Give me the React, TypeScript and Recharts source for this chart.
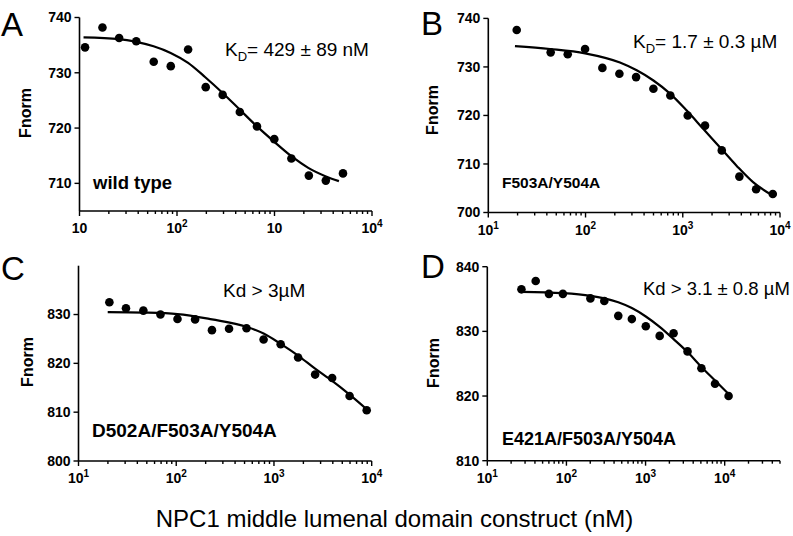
import type { FC } from 'react'
import { ComposedChart, Line, Scatter, XAxis, YAxis } from 'recharts'

const FONT = '"Liberation Sans", Arial, Helvetica, sans-serif'

// A - wild type
const wtConc = [11.4, 17.2, 25.5, 38.2, 57.7, 86.3, 130, 197, 294, 441, 661, 995, 1490, 2250, 3360, 5040]
const wtFnorm = [734.6, 738.2, 736.3, 735.7, 732.0, 731.2, 734.2, 727.4, 726.0, 722.9, 720.3, 718.0, 714.5, 711.4, 710.5, 711.8]
const wtFitConc = [11, 25.6, 38.2, 57.5, 86.1, 130, 195, 292, 437, 653, 984, 1470, 2220, 3320, 4580]
const wtFitFnorm = [736.4, 736.1, 735.6, 734.8, 733.6, 731.8, 729.2, 726.4, 723.4, 720.4, 717.6, 715.0, 712.8, 711.3, 710.4]

// B - F503A/Y504A
const fyConc = [19.6, 43.8, 65.6, 98.9, 149, 223, 331, 499, 745, 1125, 1694, 2518, 3820, 5680, 8430]
const fyFnorm = [737.6, 733.0, 732.6, 733.7, 729.8, 728.6, 727.9, 725.5, 724.1, 720.0, 717.9, 712.8, 707.4, 704.8, 703.8]
const fyFitConc = [18.8, 43.1, 98.9, 226, 336, 499, 740, 1099, 1630, 2420, 3590, 5320, 8240]
const fyFitFnorm = [734.3, 733.7, 732.8, 730.9, 729.3, 727.2, 724.5, 721.0, 717.2, 713.4, 709.6, 706.2, 703.6]

// C - D502A/F503A/Y504A
const dfyConc = [20.7, 30.6, 46.1, 69, 103, 156, 232, 347, 524, 783, 1171, 1766, 2637, 3940, 5940, 8890]
const dfyFnorm = [832.5, 831.3, 830.8, 830.0, 829.1, 829.0, 826.8, 827.1, 827.2, 824.9, 823.9, 821.2, 817.7, 817.0, 813.3, 810.4]
const dfyFitConc = [19.9, 46.1, 103, 232, 524, 783, 1171, 1766, 2637, 3940, 5940, 8890]
const dfyFitFnorm = [830.5, 830.4, 830.1, 829.0, 827.5, 826.1, 824.0, 821.6, 818.9, 816.4, 813.6, 810.6]

// D - E421A/F503A/Y504A
const efyConc = [27, 40.9, 60.1, 90.2, 201, 301, 452, 671, 1007, 1508, 2260, 3390, 5080, 7550, 11200]
const efyFnorm = [836.5, 837.8, 835.8, 835.8, 835.1, 834.7, 832.4, 831.9, 830.8, 829.3, 829.7, 826.9, 824.3, 821.9, 820.0]
const efyFitConc = [27, 90.2, 201, 301, 452, 671, 1007, 1508, 2260, 3390, 5080, 7550, 11200]
const efyFitFnorm = [836.1, 835.9, 835.5, 835.1, 834.5, 833.6, 832.3, 830.7, 828.8, 826.8, 824.5, 822.4, 820.3]

// axis ticks
const logTicks = [
  10, 20, 30, 40, 50, 60, 70, 80, 90, 100, 200, 300, 400, 500, 600, 700, 800, 900,
  1000, 2000, 3000, 4000, 5000, 6000, 7000, 8000, 9000, 10000,
]
const logTicksD = [...logTicks, 20000, 30000, 40000, 50000]
const expA = ['', '2', '', '4']
const expStd = ['1', '2', '3', '4']
const ticksA = [710, 720, 730, 740]
const ticksB = [700, 710, 720, 730, 740]
const ticksC = [800, 810, 820, 830]
const ticksD = [810, 820, 830, 840]

const toPoints = (xs: number[], ys: number[]) => xs.map((x, i) => ({ x, y: ys[i] }))

interface LogTickProps {
  x?: number
  y?: number
  payload?: { value: number }
  exps: string[]
}

const LogTick: FC<LogTickProps> = ({ x = 0, y = 0, payload, exps }) => {
  const v = payload?.value ?? 1
  const lg = Math.log10(v)
  const p = Math.round(lg)
  const major = Math.abs(lg - p) < 1e-6 && p >= 1 && p <= 4
  return (
    <g>
      <line x1={x} x2={x} y1={y} y2={y + (major ? 5 : 3)} stroke="#000" strokeWidth={1.4} />
      {major && (
        <text x={x} y={y + 22} textAnchor="middle" fontSize={14} fontWeight="bold" fill="#000" fontFamily={FONT}>
          10
          {exps[p - 1] && (
            <tspan dy={-6} fontSize={10}>
              {exps[p - 1]}
            </tspan>
          )}
        </text>
      )}
    </g>
  )
}

interface PanelProps {
  left: number
  top: number
  margin: { top: number; right: number; bottom: number; left: number }
  points: { x: number; y: number }[]
  fit: { x: number; y: number }[]
  xMax: number
  xTicks: number[]
  exps: string[]
  yDomain: [number, number]
  yTicks: number[]
}

const Dot = (p: { cx?: number; cy?: number }) => <circle cx={p.cx} cy={p.cy} r={4.3} fill="#000" />

const Panel: FC<PanelProps> = ({ left, top, margin, points, fit, xMax, xTicks, exps, yDomain, yTicks }) => (
  <div style={{ position: 'absolute', left, top }}>
    <ComposedChart width={400} height={250} margin={margin}>
      <XAxis
        dataKey="x"
        type="number"
        scale="log"
        domain={[10, xMax]}
        ticks={xTicks}
        interval={0}
        allowDataOverflow
        height={30}
        tickSize={0}
        tickMargin={0}
        tickLine={false}
        axisLine={{ stroke: '#000', strokeWidth: 1.6 }}
        tick={(p: any) => <LogTick {...p} exps={exps} />}
      />
      <YAxis
        dataKey="y"
        type="number"
        domain={yDomain}
        ticks={yTicks}
        interval={0}
        allowDataOverflow
        width={50}
        tickSize={5}
        tickMargin={3}
        tickLine={{ stroke: '#000', strokeWidth: 1.4 }}
        axisLine={{ stroke: '#000', strokeWidth: 1.6 }}
        tick={{ fill: '#000', fontSize: 14, fontWeight: 'bold', fontFamily: FONT }}
      />
      <Line
        data={fit}
        dataKey="y"
        type="monotone"
        stroke="#000"
        strokeWidth={2.2}
        dot={false}
        activeDot={false}
        isAnimationActive={false}
      />
      <Scatter data={points} dataKey="y" fill="#000" shape={Dot} isAnimationActive={false} />
    </ComposedChart>
  </div>
)

const bigLetter = { fontSize: 33, fill: '#000', fontFamily: FONT }
const note = { fontSize: 19, fill: '#000', fontFamily: FONT }
const yTitle = { fontSize: 16, fontWeight: 'bold', fill: '#000', fontFamily: FONT }

const App: FC = () => (
  <div style={{ position: 'absolute', left: 0, top: 0, width: 793, height: 536, background: '#fff' }}>
    <Panel
      left={0}
      top={0}
      margin={{ top: 17.5, right: 28, bottom: 9, left: 29.5 }}
      points={toPoints(wtConc, wtFnorm)}
      fit={toPoints(wtFitConc, wtFitFnorm)}
      xMax={10000}
      xTicks={logTicks}
      exps={expA}
      yDomain={[705, 740]}
      yTicks={ticksA}
    />
    <Panel
      left={400}
      top={0}
      margin={{ top: 18.4, right: 20, bottom: 7.5, left: 38.3 }}
      points={toPoints(fyConc, fyFnorm)}
      fit={toPoints(fyFitConc, fyFitFnorm)}
      xMax={10000}
      xTicks={logTicks}
      exps={expStd}
      yDomain={[700, 740]}
      yTicks={ticksB}
    />
    <Panel
      left={0}
      top={245}
      margin={{ top: 20.7, right: 28.3, bottom: 4, left: 28.5 }}
      points={toPoints(dfyConc, dfyFnorm)}
      fit={toPoints(dfyFitConc, dfyFitFnorm)}
      xMax={10000}
      xTicks={logTicks}
      exps={expStd}
      yDomain={[800, 840]}
      yTicks={ticksC}
    />
    <Panel
      left={400}
      top={245}
      margin={{ top: 21.7, right: 20, bottom: 4.3, left: 37.3 }}
      points={toPoints(efyConc, efyFnorm)}
      fit={toPoints(efyFitConc, efyFitFnorm)}
      xMax={50000}
      xTicks={logTicksD}
      exps={expStd}
      yDomain={[810, 840]}
      yTicks={ticksD}
    />
    <svg width={793} height={536} style={{ position: 'absolute', left: 0, top: 0, pointerEvents: 'none' }}>
      <text x={1} y={36} {...bigLetter}>A</text>
      <text x={421} y={35} {...bigLetter}>B</text>
      <text x={1} y={280} {...bigLetter}>C</text>
      <text x={421} y={278} {...bigLetter}>D</text>

      <text transform="translate(25,113) rotate(-90)" textAnchor="middle" dy="0.35em" {...yTitle}>Fnorm</text>
      <text transform="translate(432,110) rotate(-90)" textAnchor="middle" dy="0.35em" {...yTitle}>Fnorm</text>
      <text transform="translate(27,362) rotate(-90)" textAnchor="middle" dy="0.35em" {...yTitle}>Fnorm</text>
      <text transform="translate(433,363) rotate(-90)" textAnchor="middle" dy="0.35em" {...yTitle}>Fnorm</text>

      <text x={225} y={56} {...note}>
        K<tspan fontSize={13} dy={5}>D</tspan>
        <tspan dy={-5}>= 429 ± 89 nM</tspan>
      </text>
      <text x={633} y={48} {...note}>
        K<tspan fontSize={13} dy={5}>D</tspan>
        <tspan dy={-5}>= 1.7 ± 0.3 µM</tspan>
      </text>
      <text x={223} y={296.5} {...note}>Kd &gt; 3µM</text>
      <text x={643} y={295} fontSize={18.5} fill="#000" fontFamily={FONT}>Kd &gt; 3.1 ± 0.8 µM</text>

      <text x={93} y={189} fontSize={18.5} fontWeight="bold" fill="#000" fontFamily={FONT}>wild type</text>
      <text x={502} y={188} fontSize={15.5} fontWeight="bold" fill="#000" fontFamily={FONT}>F503A/Y504A</text>
      <text x={92} y={436.5} fontSize={19} fontWeight="bold" fill="#000" fontFamily={FONT}>D502A/F503A/Y504A</text>
      <text x={502} y={445} fontSize={18} fontWeight="bold" fill="#000" fontFamily={FONT}>E421A/F503A/Y504A</text>

      <text x={394.5} y={527} textAnchor="middle" fontSize={24} fill="#000" fontFamily={FONT}>
        NPC1 middle lumenal domain construct (nM)
      </text>
    </svg>
  </div>
)

export default App
